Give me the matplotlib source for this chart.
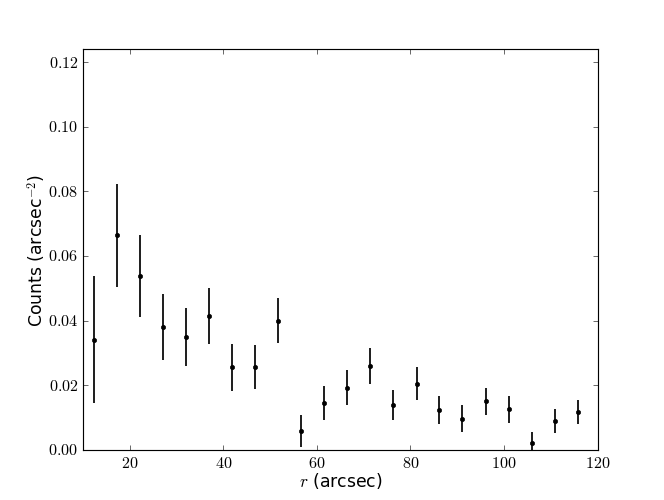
import matplotlib
matplotlib.use("Agg")
import matplotlib.pyplot as plt
from matplotlib.ticker import FuncFormatter

# radial profile
r = [12.3, 17.2, 22.1, 27.0, 32.0, 36.9, 41.8, 46.8, 51.7, 56.6, 61.6,
     66.5, 71.4, 76.3, 81.3, 86.2, 91.1, 96.1, 101.0, 105.9, 110.8, 115.8]
counts = [0.0341, 0.0664, 0.0538, 0.0379, 0.0350, 0.0415, 0.0256, 0.0256,
          0.0400, 0.0059, 0.0145, 0.0193, 0.0260, 0.0138, 0.0205, 0.0124,
          0.0097, 0.0150, 0.0125, 0.0021, 0.0089, 0.0117]
err = [0.0197, 0.0160, 0.0126, 0.0102, 0.0090, 0.0086, 0.0073, 0.0068,
       0.0070, 0.0050, 0.0054, 0.0054, 0.0055, 0.0047, 0.0050, 0.0044,
       0.0042, 0.0043, 0.0041, 0.0035, 0.0037, 0.0037]


def main():
    plt.style.use('classic')
    plt.rcParams['mathtext.fontset'] = 'cm'

    fig = plt.figure(figsize=(8, 6.036), dpi=83, facecolor='white')
    ax = fig.add_axes([0.125, 0.1, 0.775, 0.8])

    ax.errorbar(r, counts, yerr=err, fmt='ko', ms=3.8, mec='k',
                elinewidth=1.5, ecolor='k', capsize=0)

    ax.set_xlim(10, 120)
    ax.set_ylim(0, 0.124)
    ax.set_xticks([20, 40, 60, 80, 100, 120])
    ax.set_yticks([0.0, 0.02, 0.04, 0.06, 0.08, 0.10, 0.12])
    ax.xaxis.set_major_formatter(FuncFormatter(lambda v, p: r'$%d$' % v))
    ax.yaxis.set_major_formatter(FuncFormatter(lambda v, p: r'$%.2f$' % v))
    ax.tick_params(labelsize=14, direction='in', length=4)

    ax.set_xlabel(r'$r$ (arcsec)', fontsize=15, labelpad=0)
    ax.set_ylabel(r'Counts (arcsec$^{-2}$)', fontsize=15, labelpad=0)

    fig.savefig('out.png', dpi=83, facecolor='white')


if __name__ == '__main__':
    main()
